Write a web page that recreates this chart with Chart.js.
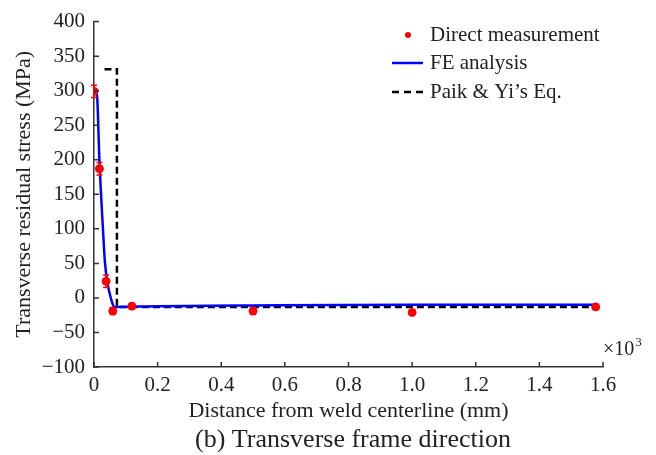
<!DOCTYPE html>
<html lang="en">
<head>
<meta charset="UTF-8">
<title>Transverse residual stress</title>
<script src="https://cdn.jsdelivr.net/npm/chart.js"></script>
<style>
  body { margin: 0; background: #fff; }
  #wrap { width: 656px; height: 455px; }
</style>
</head>
<body>
<div id="wrap"><canvas id="chart" width="656" height="455"></canvas></div>
<script>
// distance is in units of 10^3 mm, stress in MPa
const measX = [0, 0.017, 0.038, 0.059, 0.119, 0.5, 1.0, 1.577];
const measY = [299, 187, 24, -19, -12, -19, -21, -13];
const measErr = [9, 9, 9, 5, 4, 5, 4, 3];

const feX = [0.006, 0.01, 0.017, 0.028, 0.034, 0.041, 0.049, 0.058, 0.064, 0.2, 0.5, 1.0, 1.577];
const feY = [298, 290, 200, 101, 54, 25, 7, -8, -13, -12, -11, -10, -10];

const paikX = [0.033, 0.072, 0.072, 1.577];
const paikY = [331, 331, -13, -13];

const xTicks = [0, 0.2, 0.4, 0.6, 0.8, 1.0, 1.2, 1.4, 1.6];
const yTicks = [-100, -50, 0, 50, 100, 150, 200, 250, 300, 350, 400];

const serif = '"Liberation Serif", "Times New Roman", serif';
const ink = '#222';
const axisCol = '#333';

const pts = (xs, ys) => xs.map((v, i) => ({ x: v, y: ys[i] }));

const extras = {
  id: 'extras',
  afterDatasetsDraw(chart) {
    // error bars on the measurements
    const { ctx, scales: { x, y } } = chart;
    ctx.save();
    ctx.strokeStyle = '#f00';
    ctx.lineWidth = 1.5;
    measX.forEach((v, i) => {
      const px = x.getPixelForValue(v);
      const top = y.getPixelForValue(measY[i] + measErr[i]);
      const bot = y.getPixelForValue(measY[i] - measErr[i]);
      ctx.beginPath();
      ctx.moveTo(px, top); ctx.lineTo(px, bot);
      ctx.moveTo(px - 3, top); ctx.lineTo(px + 3, top);
      ctx.moveTo(px - 3, bot); ctx.lineTo(px + 3, bot);
      ctx.stroke();
    });
    ctx.restore();
  },
  afterDraw(chart) {
    const { ctx, chartArea: area, scales: { x, y } } = chart;
    ctx.save();

    // tick marks pointing into the plot
    ctx.strokeStyle = axisCol;
    ctx.lineWidth = 1.5;
    ctx.beginPath();
    x.ticks.forEach(t => {
      const px = x.getPixelForValue(t.value);
      ctx.moveTo(px, area.bottom);
      ctx.lineTo(px, area.bottom - 5);
    });
    y.ticks.forEach(t => {
      const py = y.getPixelForValue(t.value);
      ctx.moveTo(area.left, py);
      ctx.lineTo(area.left + 5, py);
    });
    ctx.stroke();

    // legend
    const lx = 392, tx = 430, rows = [35, 63, 92];
    ctx.fillStyle = '#f00';
    ctx.beginPath();
    ctx.arc(408, rows[0], 3, 0, Math.PI * 2);
    ctx.fill();
    ctx.lineWidth = 2.5;
    ctx.strokeStyle = '#0000ff';
    ctx.beginPath();
    ctx.moveTo(lx, rows[1]); ctx.lineTo(lx + 31, rows[1]);
    ctx.stroke();
    ctx.strokeStyle = '#000';
    ctx.setLineDash([7, 5]);
    ctx.beginPath();
    ctx.moveTo(lx, rows[2]); ctx.lineTo(lx + 31, rows[2]);
    ctx.stroke();
    ctx.setLineDash([]);

    ctx.fillStyle = ink;
    ctx.font = '21px ' + serif;
    ctx.textBaseline = 'middle';
    ctx.textAlign = 'left';
    ctx.fillText('Direct measurement', tx, rows[0]);
    ctx.fillText('FE analysis', tx, rows[1]);
    ctx.fillText('Paik & Yi\u2019s Eq.', tx, rows[2]);

    // axis multiplier
    ctx.font = '20px ' + serif;
    ctx.fillText('\u00d710', 603, 350);
    const w = ctx.measureText('\u00d710').width;
    ctx.font = '13px ' + serif;
    ctx.fillText('3', 603 + w + 1, 343);

    // caption
    ctx.font = '26px ' + serif;
    ctx.textAlign = 'center';
    ctx.fillText('(b) Transverse frame direction', 353, 440);
    ctx.restore();
  }
};

new Chart(document.getElementById('chart'), {
  type: 'scatter',
  data: {
    datasets: [
      {
        label: 'Direct measurement',
        data: pts(measX, measY),
        backgroundColor: '#f00',
        borderColor: '#f00',
        pointRadius: 4,
        order: 0
      },
      {
        label: 'FE analysis',
        data: pts(feX, feY),
        showLine: true,
        borderColor: '#0000ff',
        borderWidth: 2.5,
        pointRadius: 0,
        cubicInterpolationMode: 'monotone',
        order: 1
      },
      {
        label: 'Paik & Yi\u2019s Eq.',
        data: pts(paikX, paikY),
        showLine: true,
        borderColor: '#000',
        borderWidth: 2.5,
        borderDash: [7, 4],
        pointRadius: 0,
        tension: 0,
        order: 2
      }
    ]
  },
  options: {
    responsive: false,
    animation: false,
    devicePixelRatio: 1,
    layout: {
      autoPadding: false,
      padding: { left: 0, top: 19, right: 53, bottom: 0 }
    },
    plugins: {
      legend: { display: false },
      tooltip: { enabled: false }
    },
    scales: {
      x: {
        type: 'linear',
        min: xTicks[0],
        max: xTicks[xTicks.length - 1],
        afterFit: s => { s.height = 88; },
        afterBuildTicks: s => { s.ticks = xTicks.map(v => ({ value: v })); },
        grid: { display: false, drawTicks: false },
        border: { display: true, color: axisCol, width: 1.5 },
        ticks: {
          padding: 6,
          color: ink,
          font: { family: serif, size: 21 },
          callback: v => (v === 0 ? '0' : v.toFixed(1))
        },
        title: {
          display: true,
          text: 'Distance from weld centerline (mm)',
          color: ink,
          font: { family: serif, size: 22 },
          padding: { top: 0, bottom: 31 }
        }
      },
      y: {
        min: yTicks[0],
        max: yTicks[yTicks.length - 1],
        afterFit: s => { s.width = 94; },
        afterBuildTicks: s => { s.ticks = yTicks.map(v => ({ value: v })); },
        grid: { display: false, drawTicks: false },
        border: { display: true, color: axisCol, width: 1.5 },
        ticks: {
          padding: 9,
          color: ink,
          font: { family: serif, size: 21 },
          callback: v => (v < 0 ? '\u2212' + Math.abs(v) : String(v))
        },
        title: {
          display: true,
          text: 'Transverse residual stress (MPa)',
          color: ink,
          font: { family: serif, size: 22 },
          padding: { top: 11, bottom: 0 }
        }
      }
    }
  },
  plugins: [extras]
});
</script>
</body>
</html>
